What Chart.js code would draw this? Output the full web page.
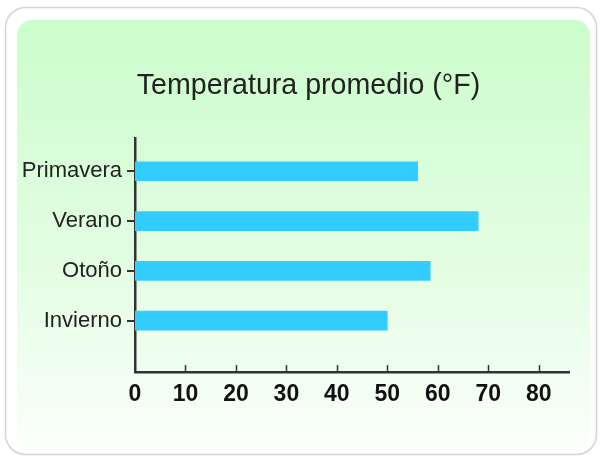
<!DOCTYPE html>
<html>
<head>
<meta charset="utf-8">
<script src="https://cdn.jsdelivr.net/npm/chart.js@4"></script>
<style>
html,body{margin:0;padding:0;background:#fff;}
#wrap{width:600px;height:457px;}
</style>
</head>
<body>
<div id="wrap"><canvas id="c" width="600" height="457"></canvas></div>
<script>
const titleText = 'Temperatura promedio (°F)';
const categories = ['Primavera', 'Verano', 'Otoño', 'Invierno'];
const temperatures = [56, 68, 58.5, 50];
const xTickValues = [0, 10, 20, 30, 40, 50, 60, 70, 80];

const bgPlugin = {
  id: 'bg',
  beforeDraw(chart) {
    const ctx = chart.ctx;
    ctx.save();
    ctx.fillStyle = '#ffffff';
    ctx.fillRect(0, 0, chart.width, chart.height);
    ctx.beginPath();
    ctx.roundRect(5.5, 7.5, 591, 447, 20);
    ctx.fillStyle = '#ffffff';
    ctx.fill();
    ctx.strokeStyle = '#d4d4d4';
    ctx.lineWidth = 1.5;
    ctx.stroke();
    const g = ctx.createLinearGradient(0, 20, 0, 450);
    g.addColorStop(0, '#ccfdcc');
    g.addColorStop(0.55, '#e2fde2');
    g.addColorStop(1, '#fbfffb');
    ctx.beginPath();
    ctx.roundRect(17, 20, 573, 428, 15);
    ctx.fillStyle = g;
    ctx.fill();
    ctx.restore();
  }
};

const innerTicks = {
  id: 'innerTicks',
  afterDraw(chart) {
    const x = chart.scales.x;
    const ctx = chart.ctx;
    const y0 = chart.chartArea.bottom;
    ctx.save();
    ctx.strokeStyle = '#333333';
    ctx.lineWidth = 1.5;
    xTickValues.forEach(v => {
      if (v === 0) return;
      const px = Math.round(x.getPixelForValue(v)) + 0.5;
      ctx.beginPath();
      ctx.moveTo(px, y0 - 7);
      ctx.lineTo(px, y0);
      ctx.stroke();
    });
    ctx.restore();
  }
};

new Chart(document.getElementById('c'), {
  type: 'bar',
  data: {
    datasets: [{
      data: categories.map((c, i) => ({x: temperatures[i], y: i})),
      backgroundColor: '#33ccff',
      borderWidth: 0,
      barThickness: 19
    }]
  },
  options: {
    responsive: false,
    animation: false,
    indexAxis: 'y',
    layout: {padding: {left: 17, right: 0, top: 20, bottom: 0}},
    plugins: {
      legend: {display: false},
      tooltip: {enabled: false},
      title: {
        display: true,
        text: titleText,
        color: '#222222',
        font: {family: 'Liberation Sans', size: 28.6, weight: 'normal', lineHeight: 1.2},
        padding: {top: 48.6, bottom: 35}
      }
    },
    scales: {
      x: {
        type: 'linear',
        min: 0,
        max: 86,
        afterBuildTicks: s => { s.ticks = xTickValues.map(v => ({value: v})); },
        afterFit: s => { s.height = 85; },
        grid: {display: false, drawTicks: false},
        border: {display: true, color: '#333333', width: 2.5},
        ticks: {
          color: '#111111',
          padding: 8.5,
          font: {family: 'Liberation Sans', size: 23, weight: 'bold'}
        }
      },
      y: {
        type: 'linear',
        reverse: true,
        offset: false,
        min: -0.67,
        max: 4.03,
        afterBuildTicks: s => { s.ticks = categories.map((c, i) => ({value: i})); },
        afterFit: s => { s.width = 118; },
        grid: {display: true, offset: false, drawOnChartArea: false, drawTicks: true, tickLength: 8, color: '#333333', lineWidth: 2},
        border: {display: true, color: '#333333', width: 2.5},
        ticks: {
          color: '#222222',
          padding: 5,
          font: {family: 'Liberation Sans', size: 22, weight: 'normal'},
          callback: v => categories[v]
        }
      },
      ySpacer: {
        type: 'linear',
        position: 'right',
        display: true,
        afterFit: s => { s.width = 31; },
        grid: {display: false, drawTicks: false},
        border: {display: false},
        ticks: {display: false}
      }
    }
  },
  plugins: [bgPlugin, innerTicks]
});
</script>
</body>
</html>
